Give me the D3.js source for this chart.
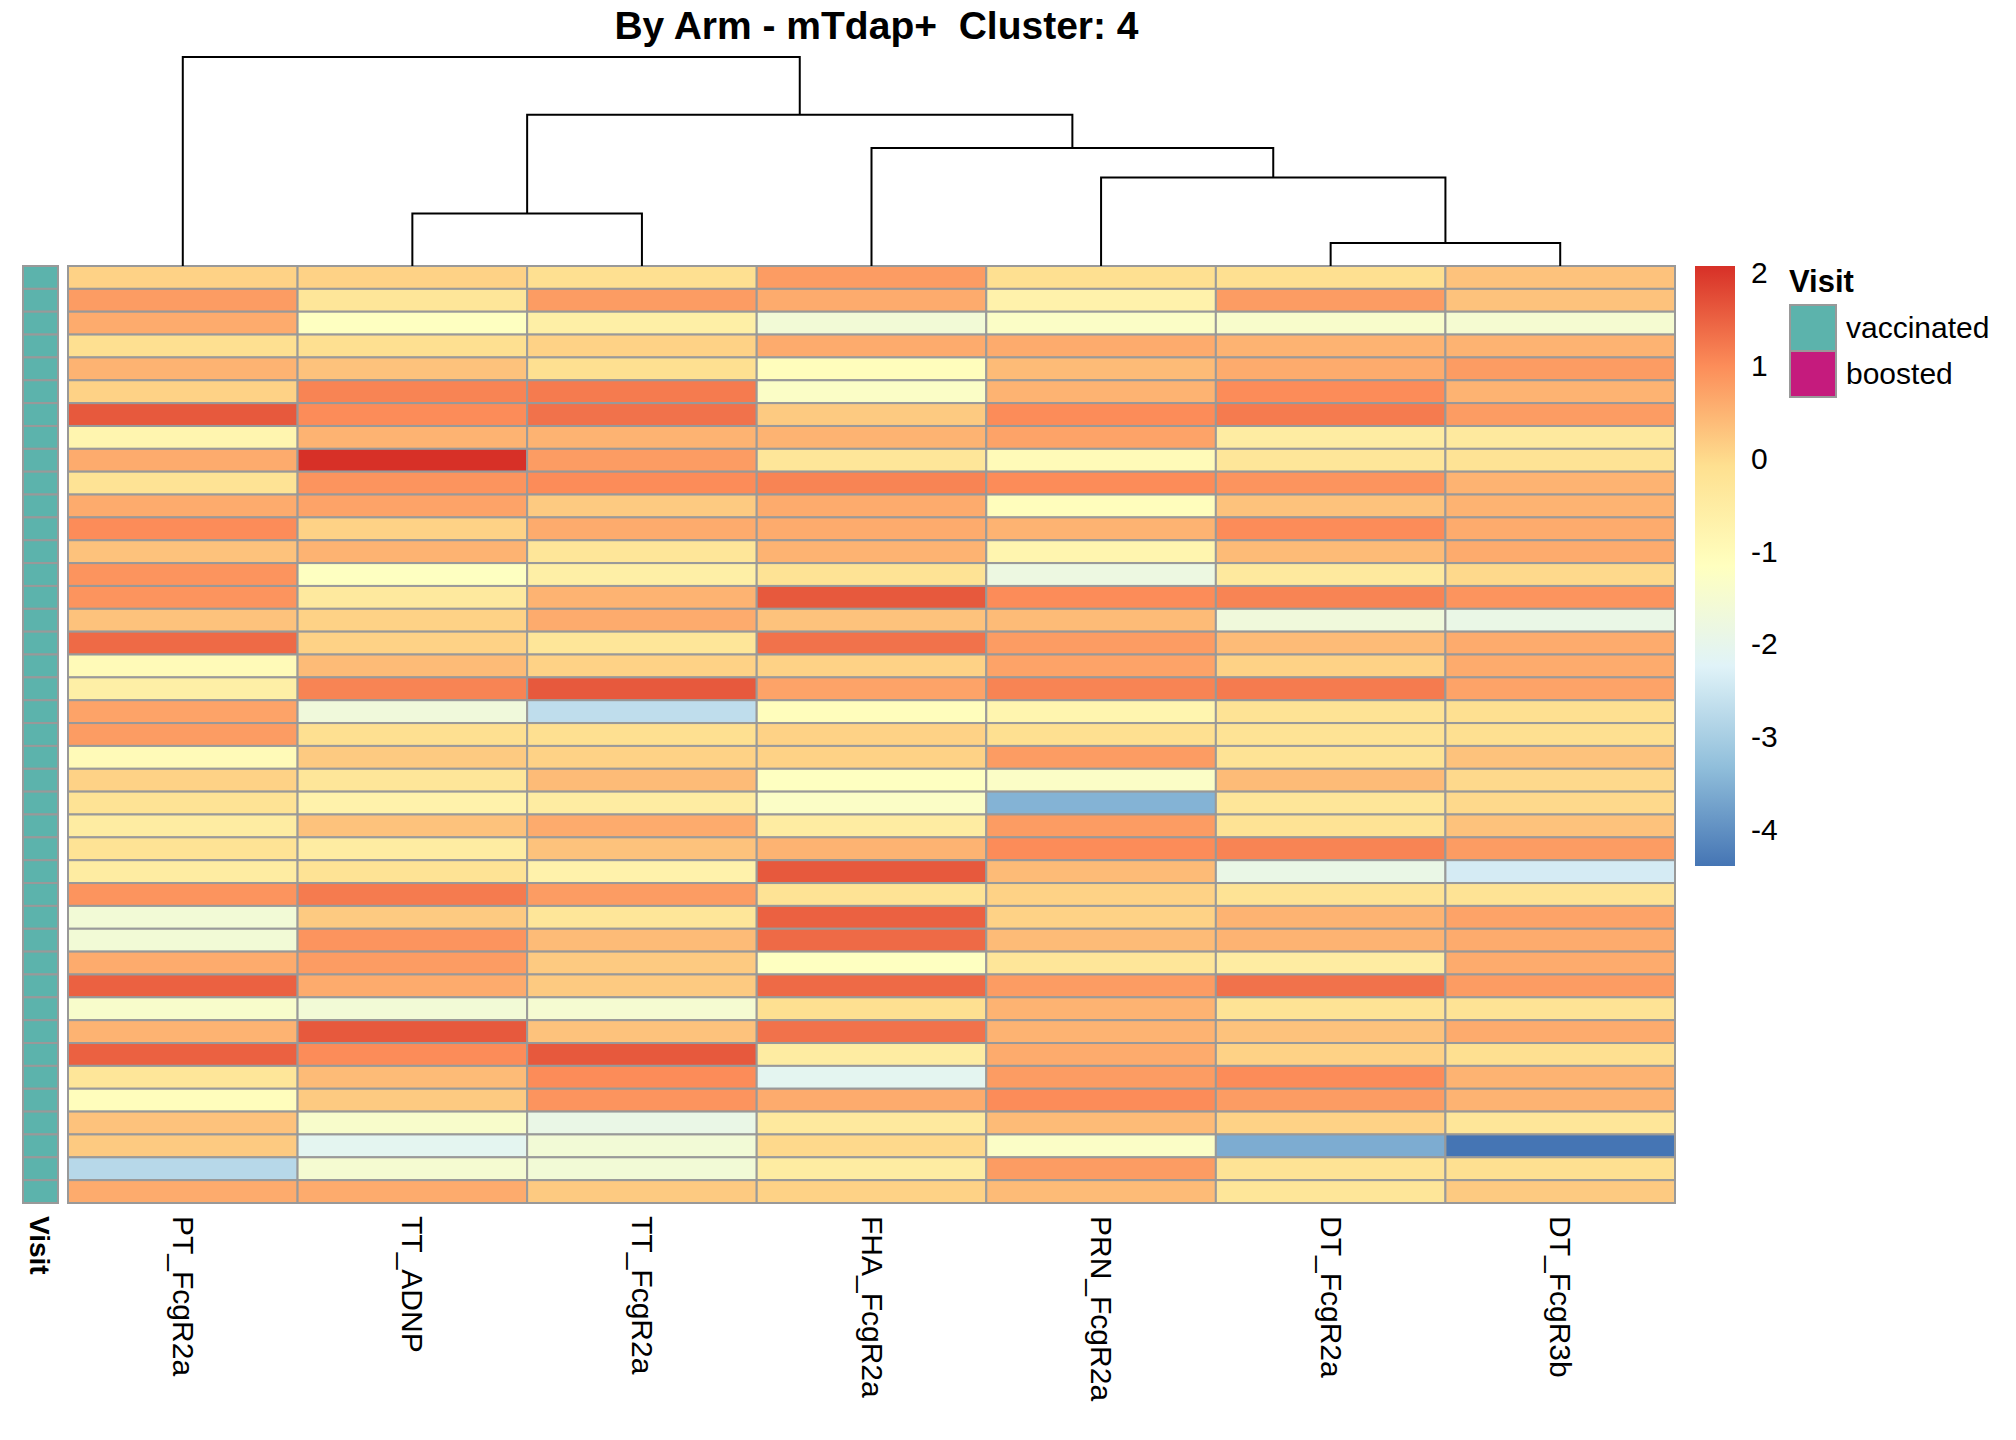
<!DOCTYPE html>
<html>
<head>
<meta charset="utf-8">
<script src="https://d3js.org/d3.v7.min.js"></script>
<style>
  body { margin: 0; background: #fff; }
  text { font-family: "Liberation Sans", Arial, sans-serif; white-space: pre; }
</style>
</head>
<body>
<div id="chart"></div>
<script>
'use strict';

const columns = ['PT_FcgR2a', 'TT_ADNP', 'TT_FcgR2a', 'FHA_FcgR2a', 'PRN_FcgR2a', 'DT_FcgR2a', 'DT_FcgR3b'];

// one row per sample, values in column order
const values = [
  [0.1, 0.1, -0.1, 0.8, -0.1, -0.1, 0.3],
  [0.8, -0.3, 0.8, 0.6, -0.7, 0.8, 0.3],
  [0.6, -1.2, -0.6, -1.6, -1.3, -1.4, -1.5],
  [-0.1, -0.1, 0.1, 0.6, 0.6, 0.5, 0.5],
  [0.5, 0.3, -0.1, -1.1, 0.4, 0.6, 0.8],
  [0.1, 1.1, 1.2, -1.3, 0.5, 1.0, 0.5],
  [1.6, 1.0, 1.3, 0.2, 1.0, 1.2, 0.8],
  [-0.8, 0.5, 0.5, 0.5, 0.7, -0.5, -0.4],
  [0.6, 2.07, 0.8, -0.3, -1.0, -0.3, -0.2],
  [-0.2, 0.9, 1.0, 1.1, 1.0, 0.9, 0.5],
  [0.6, 0.7, 0.2, 0.6, -1.1, 0.3, 0.5],
  [1.0, 0.1, 0.6, 0.6, 0.5, 1.0, 0.6],
  [0.3, 0.5, -0.3, 0.5, -0.8, 0.4, 0.6],
  [0.9, -1.2, -0.6, -0.2, -1.8, -0.4, 0.0],
  [0.9, -0.4, 0.5, 1.6, 1.0, 1.1, 0.9],
  [0.3, 0.1, 0.6, 0.3, 0.4, -1.7, -1.9],
  [1.4, 0.1, -0.3, 1.3, 0.8, 0.4, 0.6],
  [-1.0, 0.4, 0.1, 0.1, 0.7, 0.1, 0.6],
  [-0.6, 1.1, 1.6, 0.7, 1.1, 1.2, 0.7],
  [0.7, -1.7, -2.7, -1.1, -0.8, -0.2, -0.1],
  [0.8, -0.1, -0.1, 0.1, -0.1, -0.2, -0.1],
  [-1.0, 0.2, 0.1, 0.1, 0.8, -0.2, 0.3],
  [0.1, -0.3, 0.4, -1.2, -1.3, 0.4, 0.0],
  [-0.2, -0.7, -0.5, -1.3, -3.5, -0.3, 0.0],
  [-0.5, 0.3, 0.6, -0.5, 0.8, -0.2, 0.3],
  [-0.2, -0.5, 0.3, 0.5, 1.0, 1.1, 0.8],
  [-0.5, -0.2, -0.7, 1.6, 0.4, -1.9, -2.4],
  [0.9, 1.2, 0.8, -0.2, 0.1, -0.2, -0.2],
  [-1.6, 0.2, -0.3, 1.5, 0.1, 0.5, 0.7],
  [-1.6, 0.9, 0.4, 1.4, 0.4, 0.5, 0.6],
  [0.6, 0.8, 0.2, -1.2, -0.3, -0.5, 0.6],
  [1.5, 0.6, 0.2, 1.4, 0.8, 1.3, 0.8],
  [-1.4, -1.6, -1.5, -0.1, 0.5, -0.2, -0.2],
  [0.5, 1.6, 0.3, 1.3, 0.5, 0.3, 0.6],
  [1.5, 1.0, 1.6, -0.5, 0.6, 0.1, -0.1],
  [-0.3, 0.4, 1.0, -2.1, 0.8, 1.0, 0.5],
  [-1.1, 0.2, 0.9, 0.6, 1.0, 0.8, 0.5],
  [0.3, -1.4, -1.9, -0.4, 0.4, 0.1, -0.3],
  [0.2, -2.1, -1.6, 0.0, -1.3, -3.6, -4.4],
  [-2.8, -1.5, -1.6, -0.5, 0.8, -0.2, -0.1],
  [0.6, 0.6, 0.2, 0.1, 0.4, -0.3, 0.2]
];

const visit = values.map(() => 'vaccinated');
const visitLevels = ['vaccinated', 'boosted'];
const visitColors = ['#5CB3AC', '#C51B7D'];

// column dendrogram (merge heights)
const tree = { h: 163, children: [
  { name: 'PT_FcgR2a' },
  { h: 118, children: [
    { h: 41, children: [{ name: 'TT_ADNP' }, { name: 'TT_FcgR2a' }] },
    { h: 92, children: [
      { name: 'FHA_FcgR2a' },
      { h: 69, children: [
        { name: 'PRN_FcgR2a' },
        { h: 18, children: [{ name: 'DT_FcgR2a' }, { name: 'DT_FcgR3b' }] }
      ]}
    ]}
  ]}
]};

const legendTicks = [2, 1, 0, -1, -2, -3, -4];
const palette = ['#4575B4', '#91BFDB', '#E0F3F8', '#FFFFBF', '#FEE090', '#FC8D59', '#D73027'];

const W = 2016, H = 1440;
const mLeft = 68, mRight = 1675, mTop = 266, mBottom = 1203;
const svg = d3.select('#chart').append('svg').attr('width', W).attr('height', H);

const flat = values.flat();
const vmin = d3.min(flat), vmax = d3.max(flat);
const color = d3.scaleLinear()
  .domain(palette.map((_, i) => vmin + (vmax - vmin) * i / (palette.length - 1)))
  .range(palette);

const x = d3.scaleBand().domain(columns).range([mLeft, mRight]);
const y = d3.scaleBand().domain(d3.range(values.length)).range([mTop, mBottom]);

// cells
const rows = svg.append('g').selectAll('g').data(values).join('g');
rows.selectAll('rect')
  .data((r, i) => r.map((v, j) => ({ v, i, j })))
  .join('rect')
  .attr('x', d => x(columns[d.j]))
  .attr('y', d => y(d.i))
  .attr('width', x.bandwidth())
  .attr('height', y.bandwidth())
  .attr('fill', d => color(d.v))
  .attr('stroke', '#999')
  .attr('stroke-width', 2);

// annotation column
svg.append('g').selectAll('rect').data(visit).join('rect')
  .attr('x', 23).attr('width', 35)
  .attr('y', (d, i) => y(i)).attr('height', y.bandwidth())
  .attr('fill', d => visitColors[visitLevels.indexOf(d)])
  .attr('stroke', '#999').attr('stroke-width', 2);

// dendrogram
const hy = d3.scaleLinear().domain([0, 163]).range([mTop, 57]);
function layout(n) {
  if (n.name) { n.x = x(n.name) + x.bandwidth() / 2; n.h = 0; return; }
  n.children.forEach(layout);
  n.x = (n.children[0].x + n.children[1].x) / 2;
}
layout(tree);
const dg = svg.append('g').attr('fill', 'none').attr('stroke', '#000').attr('stroke-width', 2);
function drawNode(n) {
  if (!n.children) return;
  const [a, b] = n.children;
  dg.append('path').attr('d',
    `M${a.x},${hy(a.h)}V${hy(n.h)}H${b.x}V${hy(b.h)}`);
  n.children.forEach(drawNode);
}
drawNode(tree);

// title
svg.append('text').attr('x', (mLeft + mRight) / 2 + 5).attr('y', 39)
  .attr('text-anchor', 'middle').attr('font-size', 39).attr('font-weight', 'bold')
  .text('By Arm - mTdap+  Cluster: 4');

// column labels
svg.append('g').selectAll('text').data(columns).join('text')
  .attr('transform', d => `translate(${x(d) + x.bandwidth() / 2 - 10},1216) rotate(90)`)
  .attr('font-size', 30).text(d => d);
svg.append('text').attr('transform', 'translate(30,1216) rotate(90)')
  .attr('font-size', 28).attr('font-weight', 'bold').text('Visit');

// colour legend
const ly = d3.scaleLinear().domain([vmin, vmax]).range([866, 266]);
const defs = svg.append('defs');
const grad = defs.append('linearGradient').attr('id', 'cg')
  .attr('x1', 0).attr('y1', 1).attr('x2', 0).attr('y2', 0);
palette.forEach((c, i) => grad.append('stop')
  .attr('offset', i / (palette.length - 1)).attr('stop-color', c));
svg.append('rect').attr('x', 1695).attr('y', 266).attr('width', 40).attr('height', 600)
  .attr('fill', 'url(#cg)');
svg.append('g').selectAll('text').data(legendTicks).join('text')
  .attr('x', 1751).attr('y', d => ly(d) + 11)
  .attr('font-size', 30).text(d => d);

// annotation legend
svg.append('text').attr('x', 1789).attr('y', 292).attr('font-size', 31)
  .attr('font-weight', 'bold').text('Visit');
const al = svg.append('g').selectAll('g').data(visitLevels).join('g')
  .attr('transform', (d, i) => `translate(1790,${305 + i * 46})`);
al.append('rect').attr('width', 46).attr('height', 46)
  .attr('fill', (d, i) => visitColors[i]).attr('stroke', '#999').attr('stroke-width', 2);
al.append('text').attr('x', 56).attr('y', 33).attr('font-size', 30).text(d => d);
</script>
</body>
</html>
